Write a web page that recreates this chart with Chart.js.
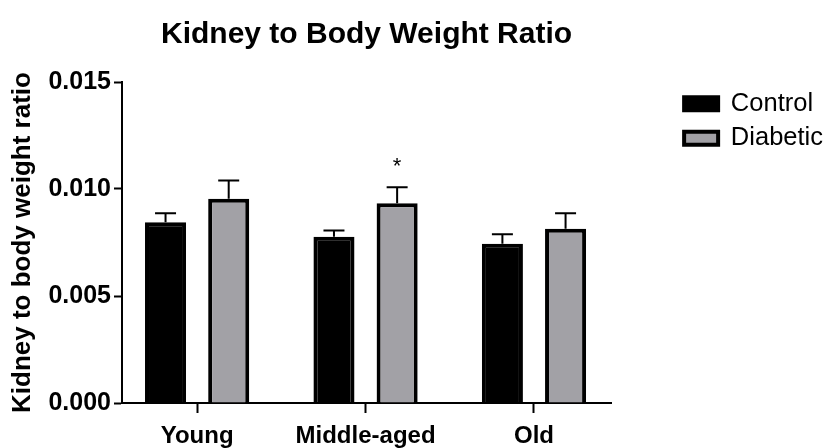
<!DOCTYPE html>
<html>
<head>
<meta charset="utf-8">
<script src="https://cdn.jsdelivr.net/npm/chart.js@4"></script>
<style>
  body { margin: 0; background: #fff; }
</style>
</head>
<body>
<canvas id="graphCanvas" width="837" height="448"></canvas>
<script>
// values
const groups = ['Young', 'Middle-aged', 'Old'];
const groupPos = [1, 2, 3];
const control = [0.00845, 0.00777, 0.00744];
const controlErr = [0.00042, 0.00029, 0.00045];
const diabetic = [0.00954, 0.00933, 0.00814];
const diabeticErr = [0.00086, 0.00075, 0.00073];
const diabeticMarks = ['', '*', ''];
const yTicks = [0, 0.005, 0.010, 0.015];

Chart.defaults.font.family = "'Liberation Sans', Arial, sans-serif";
Chart.defaults.color = '#000';

// upward error bars + significance marks
const errorBars = {
    id: 'errorBars',
    afterDatasetsDraw(chart) {
        const ctx = chart.ctx;
        const y = chart.scales.y;
        chart.data.datasets.forEach((ds, i) => {
            const meta = chart.getDatasetMeta(i);
            meta.data.forEach((bar, j) => {
                const top = y.getPixelForValue(ds.data[j].y + ds.errors[j]);
                ctx.save();
                ctx.strokeStyle = '#000';
                ctx.lineWidth = 2;
                ctx.beginPath();
                ctx.moveTo(bar.x, bar.y);
                ctx.lineTo(bar.x, top);
                ctx.moveTo(bar.x - 10.5, top);
                ctx.lineTo(bar.x + 10.5, top);
                ctx.stroke();
                if (ds.marks && ds.marks[j]) {
                    ctx.fillStyle = '#000';
                    ctx.font = "22px 'Liberation Sans', Arial, sans-serif";
                    ctx.textAlign = 'center';
                    ctx.textBaseline = 'bottom';
                    ctx.fillText(ds.marks[j], bar.x, top - 9);
                }
                ctx.restore();
            });
        });
    }
};

const toPoints = (vals) => vals.map((v, i) => ({ x: groupPos[i], y: v }));

new Chart(document.getElementById('graphCanvas'), {
    type: 'bar',
    data: {
        datasets: [{
            label: 'Control',
            data: toPoints(control),
            errors: controlErr,
            backgroundColor: '#000',
            borderColor: '#000',
            borderWidth: 4,
            categoryPercentage: 0.75,
            barPercentage: 0.65
        }, {
            label: 'Diabetic',
            data: toPoints(diabetic),
            errors: diabeticErr,
            marks: diabeticMarks,
            backgroundColor: '#a2a1a6',
            borderColor: '#000',
            borderWidth: 4,
            categoryPercentage: 0.75,
            barPercentage: 0.65
        }]
    },
    options: {
        responsive: false,
        animation: false,
        layout: { padding: { left: 0, right: 4, top: 0, bottom: 0 } },
        plugins: {
            title: {
                display: true,
                text: 'Kidney to Body Weight Ratio',
                fullSize: false,
                font: { size: 30, weight: 'bold' },
                padding: { top: 17, bottom: 29 }
            },
            legend: {
                position: 'right',
                align: 'start',
                fullSize: false,
                maxWidth: 300,
                labels: {
                    boxWidth: 34,
                    boxHeight: 13,
                    padding: 9,
                    font: { size: 25.5 }
                }
            },
            tooltip: { enabled: false }
        },
        scales: {
            x: {
                type: 'linear',
                min: 0.554,
                max: 3.458,
                offset: false,
                afterBuildTicks: (s) => { s.ticks = groupPos.map(v => ({ value: v })); },
                afterFit: (s) => { s.height = 45; },
                ticks: {
                    callback: (v, i) => groups[i],
                    font: { size: 24, weight: 'bold' },
                    padding: 9,
                    maxRotation: 0,
                    autoSkip: false
                },
                grid: {
                    offset: false,
                    drawOnChartArea: false,
                    tickLength: 10,
                    tickColor: '#000',
                    tickWidth: 2
                },
                border: { color: '#000', width: 2 }
            },
            y: {
                min: 0,
                max: 0.015,
                afterBuildTicks: (s) => { s.ticks = yTicks.map(v => ({ value: v })); },
                afterFit: (s) => { s.width = 122; },
                ticks: {
                    callback: (v) => v.toFixed(3),
                    font: { size: 25, weight: 'bold' },
                    padding: 3
                },
                grid: {
                    drawOnChartArea: false,
                    tickLength: 8,
                    tickColor: '#000',
                    tickWidth: 2
                },
                border: { color: '#000', width: 2 },
                title: {
                    display: true,
                    text: 'Kidney to body weight ratio',
                    font: { size: 26, weight: 'bold' },
                    padding: { top: 7, bottom: 0 }
                }
            },
            spacer: {
                type: 'linear',
                position: 'right',
                display: true,
                grid: { display: false },
                ticks: { display: false },
                border: { display: false },
                afterFit: (s) => { s.width = 64; }
            }
        }
    },
    plugins: [errorBars]
});
</script>
</body>
</html>
